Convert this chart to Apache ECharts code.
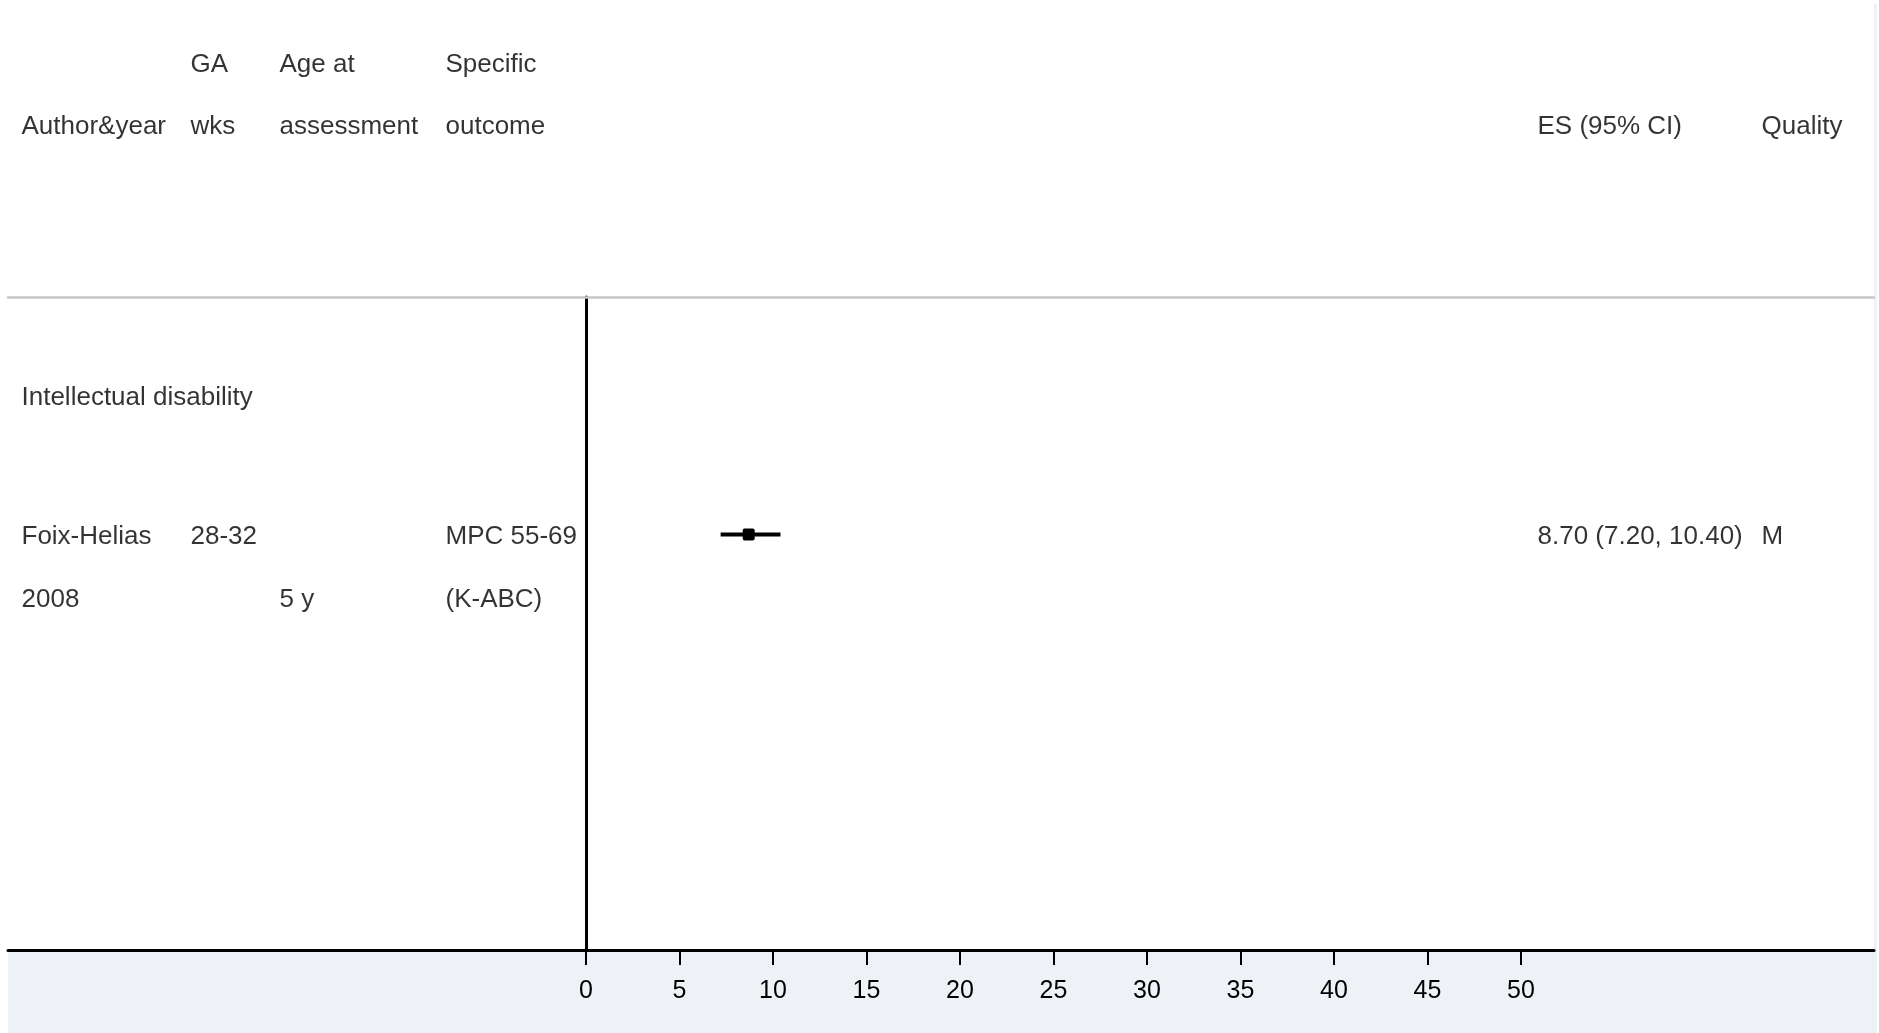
<!DOCTYPE html>
<html>
<head>
<meta charset="utf-8">
<script src="https://cdn.jsdelivr.net/npm/echarts@6/dist/echarts.min.js"></script>
<style>
html,body{margin:0;padding:0;background:#fff;}
#chart{width:1879px;height:1033px;}
</style>
</head>
<body>
<div id="chart"></div>
<script>
// ---------- data ----------
const headerLine1 = ['', 'GA', 'Age at', 'Specific', '', ''];
const headerLine2 = ['Author&year', 'wks', 'assessment', 'outcome', 'ES (95% CI)', 'Quality'];
const groupLabels = ['Intellectual disability'];
const studyAuthors = ['Foix-Helias'];
const studyYears = ['2008'];
const studyGA = ['28-32'];
const studyAge = ['5 y'];
const studyOutcomeA = ['MPC 55-69'];
const studyOutcomeB = ['(K-ABC)'];
const studyES = [8.70];
const studyLo = [7.20];
const studyHi = [10.40];
const studyQuality = ['M'];
const xTickMin = 0;
const xTickMax = 50;
const xTickStep = 5;

// ---------- layout (pixel row / column positions of the table) ----------
const colX = [21, 190, 279, 445, 1537, 1761];
const rowHeader1 = 64.5;
const rowHeader2 = 127;
const rowGroup = [397.5];
const rowStudyA = [536.5];
const rowStudyB = [600];
const ciRow = [534.5];
const plotTop = 297, plotBottom = 950;

const FONT = "'Liberation Sans', Arial, Helvetica, sans-serif";

// build text items
const textItems = [];
function addText(x, y, t) {
  if (t === '' || t == null) return;
  textItems.push({ value: [x, y], label: { formatter: t } });
}
headerLine1.forEach((t, i) => addText(colX[i], rowHeader1, t));
headerLine2.forEach((t, i) => addText(colX[i], rowHeader2, t));
groupLabels.forEach((t, i) => addText(colX[0], rowGroup[i], t));
studyAuthors.forEach((a, i) => {
  addText(colX[0], rowStudyA[i], a);
  addText(colX[1], rowStudyA[i], studyGA[i]);
  addText(colX[3], rowStudyA[i], studyOutcomeA[i]);
  addText(colX[4], rowStudyA[i],
    studyES[i].toFixed(2) + ' (' + studyLo[i].toFixed(2) + ', ' + studyHi[i].toFixed(2) + ')');
  addText(colX[5], rowStudyA[i], studyQuality[i]);
  addText(colX[0], rowStudyB[i], studyYears[i]);
  addText(colX[2], rowStudyB[i], studyAge[i]);
  addText(colX[3], rowStudyB[i], studyOutcomeB[i]);
});

const ciData = studyES.map((v, i) => [v, studyLo[i], studyHi[i], ciRow[i]]);

const chart = echarts.init(document.getElementById('chart'), null, { renderer: 'canvas' });
chart.setOption({
  animation: false,
  backgroundColor: '#ffffff',
  textStyle: { fontFamily: FONT, color: '#000' },
  graphic: [
    { type: 'rect', z: -10, shape: { x: 8, y: 951, width: 1869, height: 82 }, style: { fill: '#EEF2F6' } },
    { type: 'rect', z: -10, shape: { x: 1874, y: 4, width: 3, height: 948 }, style: { fill: '#EEF2F6' } }
  ],
  grid: [
    { left: 586, width: 935, top: plotTop, height: plotBottom - plotTop },
    { left: 8, right: 5, top: plotTop, height: plotBottom - plotTop },
    { left: 0, right: 0, top: 0, bottom: 0 }
  ],
  xAxis: [
    {
      gridIndex: 0, type: 'value', min: xTickMin, max: xTickMax, interval: xTickStep,
      axisLine: { show: true, lineStyle: { color: '#000', width: 3 } },
      axisTick: { show: true, length: 15, lineStyle: { color: '#000', width: 2 } },
      axisLabel: { show: true, fontSize: 25, color: '#000', fontFamily: FONT, margin: 29 },
      splitLine: { show: false }
    },
    {
      gridIndex: 1, type: 'value', min: 0, max: 1, position: 'bottom',
      axisLine: { show: true, lineStyle: { color: '#000', width: 3 } },
      axisTick: { show: false }, axisLabel: { show: false }, splitLine: { show: false }
    },
    {
      gridIndex: 1, type: 'value', min: 0, max: 1, position: 'top',
      axisLine: { show: true, lineStyle: { color: '#c8c8c8', width: 2.5 } },
      axisTick: { show: false }, axisLabel: { show: false }, splitLine: { show: false }
    },
    {
      gridIndex: 2, type: 'value', min: 0, max: 1879, show: false
    }
  ],
  yAxis: [
    {
      gridIndex: 0, type: 'value', min: plotTop, max: plotBottom, inverse: true,
      axisLine: { show: true, onZero: false, lineStyle: { color: '#000', width: 3 } },
      axisTick: { show: false }, axisLabel: { show: false }, splitLine: { show: false }
    },
    {
      gridIndex: 1, type: 'value', min: 0, max: 1, show: false
    },
    {
      gridIndex: 2, type: 'value', min: 0, max: 1033, inverse: true, show: false
    }
  ],
  series: [
    {
      type: 'custom',
      xAxisIndex: 0, yAxisIndex: 0,
      data: ciData,
      encode: { x: [0, 1, 2], y: 3 },
      z: 5,
      renderItem: function (params, api) {
        const y = api.value(3);
        const p0 = api.coord([api.value(1), y]);
        const p1 = api.coord([api.value(2), y]);
        const pc = api.coord([api.value(0), y]);
        const s = 12;
        return {
          type: 'group',
          children: [
            { type: 'line', shape: { x1: p0[0], y1: p0[1], x2: p1[0], y2: p1[1] },
              style: { stroke: '#000', lineWidth: 4 } },
            { type: 'rect', shape: { x: pc[0] - s / 2, y: pc[1] - s / 2, width: s, height: s, r: 2 },
              style: { fill: '#000' } }
          ]
        };
      }
    },
    {
      type: 'scatter',
      xAxisIndex: 3, yAxisIndex: 2,
      silent: true,
      symbolSize: 1,
      itemStyle: { color: 'rgba(0,0,0,0)' },
      data: textItems,
      label: {
        show: true, position: 'right', distance: 0,
        color: '#000', fontSize: 26, fontFamily: FONT
      },
      z: 6
    }
  ]
});
</script>
</body>
</html>
